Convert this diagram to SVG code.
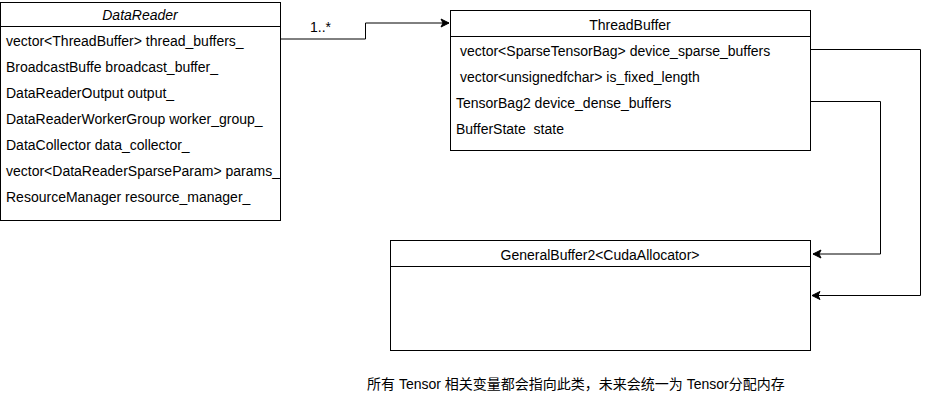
<svg xmlns="http://www.w3.org/2000/svg" width="929" height="401" viewBox="0 0 929 401">
<style>
.box{fill:#fff;stroke:#000;stroke-width:1}
.div{stroke:#000;stroke-width:1}
text{font-family:"Liberation Sans",Arial,sans-serif;font-size:14px;fill:#000;white-space:pre}
.t{text-anchor:middle}
.conn{fill:none;stroke:#000;stroke-width:1}
.note{font-family:"Liberation Sans","Noto Sans CJK SC",sans-serif;font-size:14px}
</style>
<defs>
<marker id="arr" viewBox="-9 -5 10 10" refX="0" refY="0" markerWidth="10" markerHeight="10" markerUnits="userSpaceOnUse" orient="auto">
<path d="M0,0 L-8,-4 L-6,0 L-8,4 Z" fill="#000" stroke="#000" stroke-width="1"/>
</marker>
</defs>
<g id="DataReader">
<rect class="box" x="0.5" y="2.5" width="280" height="218"/>
<line class="div" x1="0.5" y1="26.5" x2="280.5" y2="26.5"/>
<text class="t" x="140" y="20" font-style="italic">DataReader</text>
<text x="6" y="46">vector&lt;ThreadBuffer&gt; thread_buffers_</text>
<text x="6" y="72">BroadcastBuffe broadcast_buffer_</text>
<text x="6" y="98">DataReaderOutput output_</text>
<text x="6" y="124">DataReaderWorkerGroup worker_group_</text>
<text x="6" y="150">DataCollector data_collector_</text>
<text x="6" y="176">vector&lt;DataReaderSparseParam&gt; params_</text>
<text x="6" y="202">ResourceManager resource_manager_</text>
</g>
<g id="ThreadBuffer">
<rect class="box" x="450.5" y="10.5" width="360" height="140"/>
<line class="div" x1="450.5" y1="36.5" x2="810.5" y2="36.5"/>
<text class="t" x="630" y="29.5">ThreadBuffer</text>
<text x="460" y="56">vector&lt;SparseTensorBag&gt; device_sparse_buffers</text>
<text x="460" y="82">vector&lt;unsignedfchar&gt; is_fixed_length</text>
<text x="456" y="108">TensorBag2 device_dense_buffers</text>
<text x="456" y="134" xml:space="preserve">BufferState  state</text>
</g>
<g id="GeneralBuffer">
<rect class="box" x="390.5" y="240.5" width="420" height="110"/>
<line class="div" x1="390.5" y1="266.5" x2="810.5" y2="266.5"/>
<text class="t" x="600" y="259.5">GeneralBuffer2&lt;CudaAllocator&gt;</text>
</g>
<g id="connectors">
<polyline class="conn" points="280.5,39 365.5,39 365.5,23 449,23" marker-end="url(#arr)"/>
<text x="310" y="31.5">1..*</text>
<polyline class="conn" points="810.5,101.5 880.5,101.5 880.5,254 813,254" marker-end="url(#arr)"/>
<polyline class="conn" points="810.5,49.5 920.5,49.5 920.5,295.5 812,295.5" marker-end="url(#arr)"/>
</g>
<g id="note">
<text class="note" x="367" y="389">所有 Tensor 相关变量都会指向此类，未来会统一为 Tensor分配内存</text>
</g>
</svg>
